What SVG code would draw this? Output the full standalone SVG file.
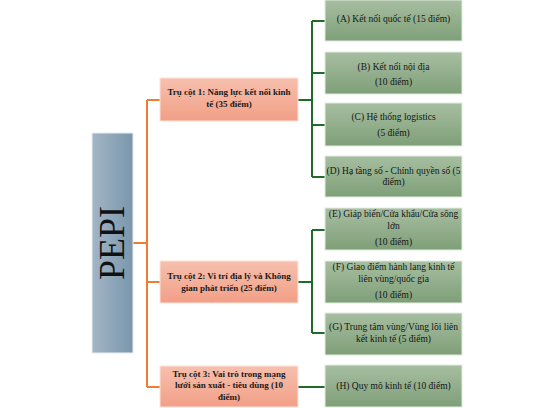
<svg xmlns="http://www.w3.org/2000/svg" width="554" height="408" viewBox="0 0 554 408">
<defs>
<linearGradient id="gPepi" x1="0" y1="0" x2="1" y2="0">
<stop offset="0" stop-color="#a3b5c6"/>
<stop offset="1" stop-color="#7a96ac"/>
</linearGradient>
<linearGradient id="gPil" x1="0" y1="0" x2="0" y2="1">
<stop offset="0" stop-color="#f6c0ae"/>
<stop offset="1" stop-color="#f29f86"/>
</linearGradient>
<linearGradient id="gLeaf" x1="0" y1="0" x2="0" y2="1">
<stop offset="0" stop-color="#a7bea1"/>
<stop offset="1" stop-color="#7e9f78"/>
</linearGradient>
</defs>
<style>
.pil{fill:url(#gPil);stroke:#fbe3da;stroke-width:1}
.leaf{fill:url(#gLeaf);stroke:#e3ebe1;stroke-width:1}
.pt{font-family:"Liberation Serif","DejaVu Serif",serif;font-size:9px;font-weight:bold;fill:#1a1a1a;text-anchor:middle}
.lt{font-family:"Liberation Serif","DejaVu Serif",serif;font-size:9.5px;fill:#151515;text-anchor:middle}
.or{stroke:#ed7d31;stroke-width:2;fill:none}
.gr{stroke:#1f6b27;stroke-width:2;fill:none}
</style>
<g id="connectors">
<path class="or" d="M133 243H147M147 100V387M147 100H160M147 282H160M147 387H160"/>
<path class="gr" d="M298 100H312M312 21V177M312 21H325M312 73H325M312 125H325M312 177H325"/>
<path class="gr" d="M298 282H312M312 230V333M312 230H325M312 333H325"/>
<path class="gr" d="M298 387H325"/>
</g>
<g id="pepi">
<rect x="92" y="133" width="41" height="220" fill="url(#gPepi)" stroke="#e8eef3" stroke-width="1"/>
<text transform="translate(124 243) rotate(-90)" font-family="'Liberation Serif','DejaVu Serif',serif" font-size="36" text-anchor="middle" fill="#111">PEPI</text>
</g>
<g id="pillar1">
<rect class="pil" x="160" y="78" width="138" height="43"/>
<text class="pt" x="229" y="95">Trụ cột 1: Năng lực kết nối kinh</text>
<text class="pt" x="229" y="107">tế (35 điểm)</text>
</g>
<g id="pillar2">
<rect class="pil" x="160" y="261" width="138" height="42"/>
<text class="pt" x="229" y="279">Trụ cột 2: Vi trí địa lý và Không</text>
<text class="pt" x="229" y="291">gian phát triển (25 điểm)</text>
</g>
<g id="pillar3">
<rect class="pil" x="160" y="366" width="138" height="41"/>
<text class="pt" x="229" y="377">Trụ cột 3: Vai trò trong mạng</text>
<text class="pt" x="229" y="388">lưới sản xuất - tiêu dùng (10</text>
<text class="pt" x="229" y="400">điểm)</text>
</g>
<g id="leafA">
<rect class="leaf" x="325" y="0" width="137" height="41"/>
<text class="lt" x="393.5" y="22">(A) Kết nối quốc tế (15 điểm)</text>
</g>
<g id="leafB">
<rect class="leaf" x="325" y="52" width="137" height="42"/>
<text class="lt" x="393.5" y="70">(B) Kết nối nội địa</text>
<text class="lt" x="393.5" y="85">(10 điểm)</text>
</g>
<g id="leafC">
<rect class="leaf" x="325" y="103" width="137" height="43"/>
<text class="lt" x="393.5" y="120">(C) Hệ thống logistics</text>
<text class="lt" x="393.5" y="136">(5 điểm)</text>
</g>
<g id="leafD">
<rect class="leaf" x="325" y="156" width="137" height="41"/>
<text class="lt" x="393.5" y="174">(D) Hạ tầng số - Chính quyền số (5</text>
<text class="lt" x="393.5" y="185">điểm)</text>
</g>
<g id="leafE">
<rect class="leaf" x="325" y="208" width="137" height="42"/>
<text class="lt" x="393.5" y="217">(E) Giáp biến/Cửa khẩu/Cửa sông</text>
<text class="lt" x="393.5" y="229">lớn</text>
<text class="lt" x="393.5" y="245">(10 điểm)</text>
</g>
<g id="leafF">
<rect class="leaf" x="325" y="261" width="137" height="42"/>
<text class="lt" x="393.5" y="270">(F) Giao điểm hành lang kinh tế</text>
<text class="lt" x="393.5" y="282">liên vùng/quốc gia</text>
<text class="lt" x="393.5" y="298">(10 điểm)</text>
</g>
<g id="leafG">
<rect class="leaf" x="325" y="313" width="137" height="42"/>
<text class="lt" x="393.5" y="330">(G) Trung tâm vùng/Vùng lõi liên</text>
<text class="lt" x="393.5" y="342">kết kinh tế (5 điểm)</text>
</g>
<g id="leafH">
<rect class="leaf" x="325" y="365" width="137" height="42"/>
<text class="lt" x="393.5" y="389">(H) Quy mô kinh tế (10 điểm)</text>
</g>
</svg>
